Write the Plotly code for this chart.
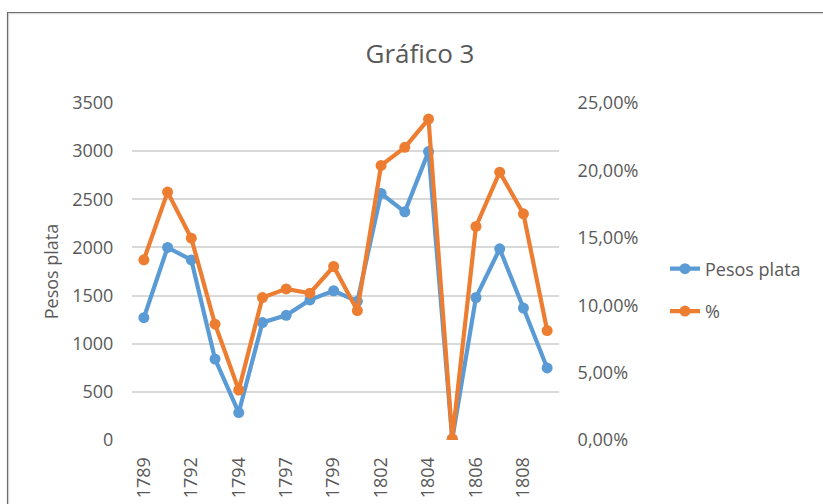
import plotly.graph_objects as go

years = ["1789", "1791", "1792", "1793", "1794", "1796", "1797", "1798", "1799",
         "1801", "1802", "1803", "1804", "1805", "1806", "1807", "1808", "1809"]
pesos_plata = [1270, 2000, 1870, 840, 285, 1220, 1295, 1455, 1550,
               1440, 2560, 2370, 2995, 10, 1480, 1985, 1370, 748]
porcentaje = [0.1337, 0.1839, 0.1497, 0.0859, 0.0371, 0.1057, 0.1121, 0.1089, 0.1287,
              0.0960, 0.2037, 0.2171, 0.2381, 0.0008, 0.1584, 0.1987, 0.1678, 0.0812]
tick_years = ["1789", "1792", "1794", "1797", "1799", "1802", "1804", "1806", "1808"]

BLUE = "#5B9BD5"
ORANGE = "#ED7D31"
GRAY = "#595959"
GRID = "#D9D9D9"
FONT = "Open Sans"

fig = go.Figure()
fig.add_trace(go.Scatter(
    x=years, y=pesos_plata, name="Pesos plata", mode="lines+markers",
    line=dict(color=BLUE, width=4.2), marker=dict(color=BLUE, size=11),
    legendgroup="a", yaxis="y"))
fig.add_trace(go.Scatter(
    x=years, y=porcentaje, name="%", mode="lines+markers",
    line=dict(color=ORANGE, width=4.2), marker=dict(color=ORANGE, size=11),
    legendgroup="b", yaxis="y2"))

W, H = 823, 504
ml, mr, mt, mb = 132, 264, 103, 64
pw = W - ml - mr
ph = H - mt - mb

def px_x(p):
    return (p - ml) / pw

def px_y(p):
    return (H - mb - p) / ph

fig.update_layout(
    width=W, height=H,
    margin=dict(l=ml, r=mr, t=mt, b=mb, autoexpand=False),
    paper_bgcolor="white", plot_bgcolor="white",
    separators=",.",
    font=dict(family=FONT, size=18, color=GRAY),
    title=dict(text="Gráfico 3", xref="container", x=420 / W, xanchor="center",
               yref="container", y=1 - 54 / H, yanchor="middle",
               font=dict(family=FONT, size=26, color=GRAY)),
    xaxis=dict(type="category", categoryorder="array", categoryarray=years,
               range=[-0.5, len(years) - 0.5],
               tickmode="array", tickvals=tick_years, ticktext=tick_years,
               tickangle=-90, showgrid=False, showline=False, zeroline=False,
               ticks="outside", ticklen=9, tickcolor="rgba(0,0,0,0)",
               tickfont=dict(size=18, color=GRAY), automargin=False),
    yaxis=dict(range=[0, 3500], dtick=500, tickformat="d",
               showgrid=True, gridcolor=GRID, gridwidth=2,
               zeroline=False, showline=False,
               ticks="outside", ticklen=14, tickcolor="rgba(0,0,0,0)",
               tickfont=dict(size=18, color=GRAY),
               title=dict(text="Pesos plata", standoff=8,
                          font=dict(size=18, color=GRAY)),
               automargin=False),
    yaxis2=dict(range=[0, 0.25], dtick=0.05, tickformat=".2%",
                overlaying="y", side="right", showgrid=False,
                zeroline=False, showline=False,
                ticks="outside", ticklen=14, tickcolor="rgba(0,0,0,0)",
                tickfont=dict(size=18, color=GRAY), automargin=False),
    legend=dict(x=px_x(665), xanchor="left", y=px_y(290), yanchor="middle",
                bgcolor="rgba(0,0,0,0)", tracegroupgap=16,
                font=dict(size=18, color=GRAY)),
    showlegend=True,
)

# outer chart frame (extends beyond the visible window)
fig.add_shape(type="rect", xref="paper", yref="paper",
              x0=px_x(8.5), x1=px_x(W + 50), y0=px_y(H + 50), y1=px_y(13.5),
              line=dict(color="#DDDDDD", width=1.5), layer="below")
fig.add_shape(type="rect", xref="paper", yref="paper",
              x0=px_x(7.5), x1=px_x(W + 50), y0=px_y(H + 50), y1=px_y(12.5),
              line=dict(color="#6E6E6E", width=1.2), layer="below")

fig.write_html("out.html",
               config={"displayModeBar": False},
               post_script="document.body.style.margin='0';document.body.style.overflow='hidden';")
